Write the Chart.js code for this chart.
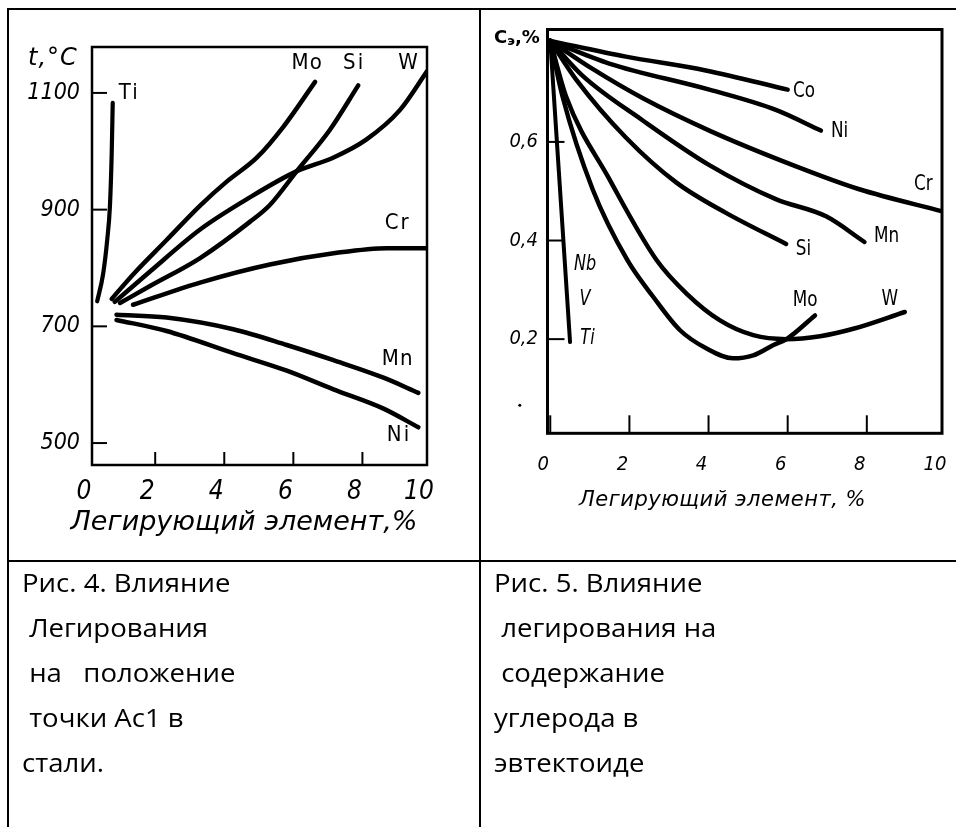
<!DOCTYPE html>
<html><head><meta charset="utf-8">
<script src="https://cdn.jsdelivr.net/npm/chart.js@4.4.1/dist/chart.umd.min.js"></script>
<style>
html,body{margin:0;padding:0;background:#fff;}
#page{position:relative;width:956px;height:827px;overflow:hidden;background:#fff;}
canvas{position:absolute;}
.ln{position:absolute;background:#000;}
.cap{position:absolute;font-family:'Open Sans',sans-serif;font-size:25.5px;line-height:44.9px;color:#000;white-space:pre;margin:0;transform:scaleX(1.08);transform-origin:0 0;}
</style></head><body>
<div id="page">
<canvas id="fig4" width="480" height="560" style="left:0;top:0"></canvas>
<canvas id="fig5" width="476" height="560" style="left:480px;top:0"></canvas>
<div class="ln" style="left:6.5px;top:7.5px;width:950px;height:2px"></div>
<div class="ln" style="left:6.5px;top:7.5px;width:2.3px;height:820px"></div>
<div class="ln" style="left:479px;top:7.5px;width:2px;height:820px"></div>
<div class="ln" style="left:6.5px;top:559.5px;width:950px;height:2.5px"></div>
<div class="cap" style="left:22px;top:560.4px">Рис. 4. Влияние
 Легирования
 на   положение
 точки Ас1 в
стали.</div>
<div class="cap" style="left:494px;top:560.4px">Рис. 5. Влияние
 легирования на
 содержание
углерода в
эвтектоиде</div>
</div>
<script>
// ---------- Fig. 4 : Ac1 temperature, °C vs alloying element, % ----------
const fig4XTicks = [0, 2, 4, 6, 8, 10];
const fig4YTicks = [500, 700, 900, 1100];
const fig4_Ti_x = [0.32, 0.49, 0.61, 0.69, 0.74, 0.77];
const fig4_Ti_y = [743, 789, 848, 907, 995, 1083];
const fig4_Mo_x = [0.74, 1.36, 2.33, 3.30, 4.07, 4.94, 5.71, 6.63];
const fig4_Mo_y = [747, 789, 848, 907, 948, 989, 1042, 1119];
const fig4_W_x  = [0.83, 1.85, 3.30, 4.74, 6.10, 7.15, 8.11, 9.09, 9.87];
const fig4_W_y  = [742, 794, 866, 921, 966, 989, 1020, 1071, 1137];
const fig4_Si_x = [0.98, 1.85, 3.30, 4.74, 5.32, 6.10, 7.06, 7.88];
const fig4_Si_y = [740, 769, 817, 879, 908, 966, 1037, 1113];
const fig4_Cr_x = [1.36, 3.30, 5.32, 7.26, 8.71, 9.87];
const fig4_Cr_y = [737, 775, 806, 826, 834, 834];
const fig4_Mn_x = [0.88, 2.33, 4.26, 5.81, 7.16, 8.61, 9.62];
const fig4_Mn_y = [720, 715, 695, 668, 642, 612, 586];
const fig4_Ni_x = [0.88, 2.33, 4.26, 5.81, 7.16, 8.61, 9.62];
const fig4_Ni_y = [711, 692, 654, 624, 592, 559, 527];

// ---------- Fig. 5 : eutectoid carbon, % vs alloying element, % ----------
const fig5XTicks = [0, 2, 4, 6, 8, 10];
const fig5YTicks = [0.2, 0.4, 0.6];
const fig5_Co_x = [0, 1.91, 3.93, 6.00];
const fig5_Co_y = [0.805, 0.773, 0.745, 0.706];
const fig5_Ni_x = [0, 1.49, 4.02, 5.70, 6.84];
const fig5_Ni_y = [0.805, 0.759, 0.706, 0.665, 0.623];
const fig5_Cr_x = [0, 1.07, 2.33, 4.02, 6.13, 7.81, 9.92];
const fig5_Cr_y = [0.805, 0.748, 0.689, 0.623, 0.553, 0.504, 0.459];
const fig5_Mn_x = [0, 0.82, 2.33, 4.02, 5.70, 6.97, 7.94];
const fig5_Mn_y = [0.805, 0.734, 0.644, 0.553, 0.484, 0.449, 0.397];
const fig5_Si_x = [0, 0.65, 1.91, 3.18, 4.44, 5.96];
const fig5_Si_y = [0.805, 0.727, 0.609, 0.518, 0.456, 0.393];
const fig5_W_x  = [0, 0.40, 1.49, 2.69, 3.45, 4.29, 5.13, 5.97, 6.82, 7.66, 8.96];
const fig5_W_y  = [0.805, 0.692, 0.525, 0.360, 0.292, 0.238, 0.208, 0.200, 0.206, 0.221, 0.255];
const fig5_Mo_x = [0, 0.31, 1.07, 1.95, 2.60, 3.28, 3.95, 4.62, 5.13, 5.64, 5.97, 6.69];
const fig5_Mo_y = [0.805, 0.692, 0.504, 0.360, 0.286, 0.218, 0.181, 0.161, 0.167, 0.188, 0.200, 0.248];
const fig5_NbVTi_x = [0, 0.50];
const fig5_NbVTi_y = [0.805, 0.194];

// ---------- styling ----------
const DRAW = "'DejaVu Sans Condensed', 'DejaVu Sans', sans-serif";
const WIDE = "'DejaVu Sans', sans-serif";
Chart.defaults.color = '#000';

function pts(xs, ys) { return xs.map((x, i) => ({x: x, y: ys[i]})); }
function ds(name, xs, ys, w) {
  return {label: name, data: pts(xs, ys), borderColor: '#000', backgroundColor: '#000',
    borderWidth: w, pointRadius: 0, fill: false, cubicInterpolationMode: 'monotone',
    borderCapStyle: 'round', borderJoinStyle: 'round'};
}
function noPad(s) { s.paddingLeft = 0; s.paddingRight = 0; }

function frameTicks(o) {
  return {
    id: 'frameTicks',
    afterDatasetsDraw(chart) {
      const {ctx, chartArea: a, scales: {x, y}} = chart;
      ctx.save();
      ctx.strokeStyle = '#000';
      ctx.lineWidth = o.frame;
      ctx.lineJoin = 'miter';
      ctx.strokeRect(a.left, a.top, a.right - a.left, a.bottom - a.top);
      ctx.lineWidth = o.tick;
      x.ticks.forEach(t => {
        if (t.value > x.min + 1e-6 && t.value < x.max - 1e-6) {
          const p = x.getPixelForValue(t.value);
          ctx.beginPath(); ctx.moveTo(p, a.bottom); ctx.lineTo(p, a.bottom - o.xLen); ctx.stroke();
        }
      });
      y.ticks.forEach(t => {
        if (t.value > y.min + 1e-6 && t.value < y.max - 1e-6) {
          const p = y.getPixelForValue(t.value);
          ctx.beginPath(); ctx.moveTo(a.left, p); ctx.lineTo(a.left + o.yLen, p); ctx.stroke();
        }
      });
      ctx.restore();
    }
  };
}

function textLayer(o) {
  return {
    id: 'textLayer',
    afterDraw(chart) {
      const {ctx, chartArea: a, scales: {x, y}} = chart;
      ctx.save();
      ctx.fillStyle = '#000';
      ctx.textBaseline = 'middle';
      o.labels.forEach(l => {
        ctx.save();
        ctx.font = l.font; ctx.textAlign = 'center';
        ctx.letterSpacing = l.ls || '0px';
        ctx.translate(x.getPixelForValue(l.x), y.getPixelForValue(l.y));
        ctx.scale(l.sx || 1, 1);
        ctx.fillText(l.text, 0, 0);
        ctx.restore();
      });
      o.titles.forEach(t => {
        ctx.font = t.font; ctx.textAlign = t.align;
        ctx.letterSpacing = t.ls || '0px';
        let px = a.left + t.dx;
        let py = (t.vref === 'bottom' ? a.bottom : a.top) + t.dy;
        if (t.parts) {
          t.parts.forEach(pt => {
            ctx.font = pt.font;
            ctx.fillText(pt.text, px, py + (pt.dy || 0));
            px += ctx.measureText(pt.text).width;
          });
        } else {
          ctx.fillText(t.text, px, py);
        }
      });
      (o.dots || []).forEach(d => {
        ctx.beginPath();
        ctx.arc(x.getPixelForValue(d.x), y.getPixelForValue(d.y), d.r, 0, Math.PI * 2);
        ctx.fill();
      });
      ctx.restore();
    }
  };
}

// ---------- Fig. 4 chart ----------
new Chart(document.getElementById('fig4'), {
  type: 'line',
  data: {datasets: [
    ds('Ti', fig4_Ti_x, fig4_Ti_y, 4.2),
    ds('Mo', fig4_Mo_x, fig4_Mo_y, 4.5),
    ds('W',  fig4_W_x,  fig4_W_y,  4.5),
    ds('Si', fig4_Si_x, fig4_Si_y, 4.5),
    ds('Cr', fig4_Cr_x, fig4_Cr_y, 4.5),
    ds('Mn', fig4_Mn_x, fig4_Mn_y, 4.5),
    ds('Ni', fig4_Ni_x, fig4_Ni_y, 4.5)
  ]},
  options: {
    responsive: false, maintainAspectRatio: false, animation: false, devicePixelRatio: 1,
    layout: {padding: {left: 0, right: 53, top: 47, bottom: 0}},
    plugins: {legend: {display: false}, tooltip: {enabled: false}},
    scales: {
      x: {
        type: 'linear', min: 0.17, max: 9.87,
        grid: {display: false, drawTicks: false}, border: {display: false},
        afterBuildTicks: s => { s.ticks = fig4XTicks.map(v => ({value: Math.min(Math.max(v, s.min), s.max)})); },
        afterFit: s => { s.height = 95; noPad(s); },
        ticks: {autoSkip: false, maxRotation: 0, padding: 12, labelOffset: -8,
          callback: (v, i) => String(fig4XTicks[i]),
          font: {family: DRAW, size: 26, style: 'italic'}}
      },
      y: {
        type: 'linear', min: 462.4, max: 1178.7,
        grid: {display: false, drawTicks: false}, border: {display: false},
        afterBuildTicks: s => { s.ticks = fig4YTicks.map(v => ({value: v})); },
        afterFit: s => { s.width = 92; },
        ticks: {autoSkip: false, padding: 12,
          callback: (v, i) => String(fig4YTicks[i]),
          font: {family: DRAW, size: 23, style: 'italic'}}
      }
    }
  },
  plugins: [
    frameTicks({frame: 2.5, tick: 2, xLen: 13, yLen: 15}),
    textLayer({
      labels: [
        {text: 'Ti', x: 1.25, y: 1100, font: "22px " + DRAW, ls: '2px'},
        {text: 'Mo', x: 6.40, y: 1151, font: "22px " + DRAW, ls: '1px'},
        {text: 'Si', x: 7.76, y: 1151, font: "22px " + DRAW, ls: '2px'},
        {text: 'W',  x: 9.32, y: 1151, font: "22px " + DRAW},
        {text: 'Cr', x: 9.02, y: 877, font: "22px " + DRAW, ls: '2px'},
        {text: 'Mn', x: 9.02, y: 643, font: "22px " + DRAW, ls: '1px'},
        {text: 'Ni', x: 9.06, y: 514, font: "22px " + DRAW, ls: '2px'}
      ],
      titles: [
        {text: 't,°C', align: 'left', dx: -64, dy: 12, font: "italic 24px " + WIDE, ls: '1px'},
        {text: 'Легирующий элемент,%', align: 'center', dx: 152, vref: 'bottom', dy: 58, font: "italic 27px " + WIDE}
      ]
    })
  ]
});

// ---------- Fig. 5 chart ----------
new Chart(document.getElementById('fig5'), {
  type: 'line',
  data: {datasets: [
    ds('Co', fig5_Co_x, fig5_Co_y, 4.5),
    ds('Ni', fig5_Ni_x, fig5_Ni_y, 4.5),
    ds('Cr', fig5_Cr_x, fig5_Cr_y, 4.5),
    ds('Mn', fig5_Mn_x, fig5_Mn_y, 4.5),
    ds('Si', fig5_Si_x, fig5_Si_y, 4.5),
    ds('W',  fig5_W_x,  fig5_W_y,  4.5),
    ds('Mo', fig5_Mo_x, fig5_Mo_y, 4.5),
    ds('Nb, V, Ti', fig5_NbVTi_x, fig5_NbVTi_y, 4)
  ]},
  options: {
    responsive: false, maintainAspectRatio: false, animation: false, devicePixelRatio: 1,
    layout: {padding: {left: 0, right: 14, top: 29.5, bottom: 0}},
    plugins: {legend: {display: false}, tooltip: {enabled: false}},
    scales: {
      x: {
        type: 'linear', min: -0.07, max: 9.90,
        grid: {display: false, drawTicks: false}, border: {display: false},
        afterBuildTicks: s => { s.ticks = fig5XTicks.map(v => ({value: Math.min(Math.max(v, s.min), s.max)})); },
        afterFit: s => { s.height = 126.7; noPad(s); },
        ticks: {autoSkip: false, maxRotation: 0, padding: 19, labelOffset: -7,
          callback: (v, i) => String(fig5XTicks[i]),
          font: {family: DRAW, size: 20, style: 'italic'}}
      },
      y: {
        type: 'linear', min: 0.009, max: 0.828,
        grid: {display: false, drawTicks: false}, border: {display: false},
        afterBuildTicks: s => { s.ticks = fig5YTicks.map(v => ({value: v})); },
        afterFit: s => { s.width = 67.5; },
        ticks: {autoSkip: false, padding: 9.5,
          callback: (v, i) => fig5YTicks[i].toFixed(1).replace('.', ','),
          font: {family: DRAW, size: 20, style: 'italic'}}
      }
    }
  },
  plugins: [
    frameTicks({frame: 3, tick: 2, xLen: 18, yLen: 17}),
    textLayer({
      labels: [
        {text: 'Co', x: 6.41, y: 0.703, font: "22px " + DRAW, sx: 0.85},
        {text: 'Ni', x: 7.31, y: 0.621, font: "22px " + DRAW, sx: 0.85},
        {text: 'Cr', x: 9.43, y: 0.515, font: "22px " + DRAW, sx: 0.85},
        {text: 'Mn', x: 8.50, y: 0.408, font: "22px " + DRAW, sx: 0.85},
        {text: 'Si', x: 6.40, y: 0.382, font: "22px " + DRAW, sx: 0.85},
        {text: 'Mo', x: 6.44, y: 0.279, font: "22px " + DRAW, sx: 0.85},
        {text: 'W',  x: 8.58, y: 0.280, font: "22px " + DRAW, sx: 0.85},
        {text: 'Nb', x: 0.88, y: 0.351, font: "italic 21px " + DRAW, sx: 0.85},
        {text: 'V',  x: 0.88, y: 0.281, font: "italic 21px " + DRAW, sx: 0.85},
        {text: 'Ti', x: 0.94, y: 0.202, font: "italic 21px " + DRAW, sx: 0.85}
      ],
      titles: [
        {align: 'left', dx: -53.5, dy: 9, parts: [
          {text: 'C', font: "bold 18px " + WIDE},
          {text: 'э', font: "bold 13px " + WIDE, dy: 3},
          {text: ',%', font: "bold 18px " + WIDE}
        ]},
        {text: 'Легирующий элемент, %', align: 'center', dx: 175, vref: 'bottom', dy: 67, font: "italic 21px " + WIDE, ls: '0.5px'}
      ],
      dots: [{x: -0.77, y: 0.066, r: 1.5}]
    })
  ]
});
</script>
</body></html>
